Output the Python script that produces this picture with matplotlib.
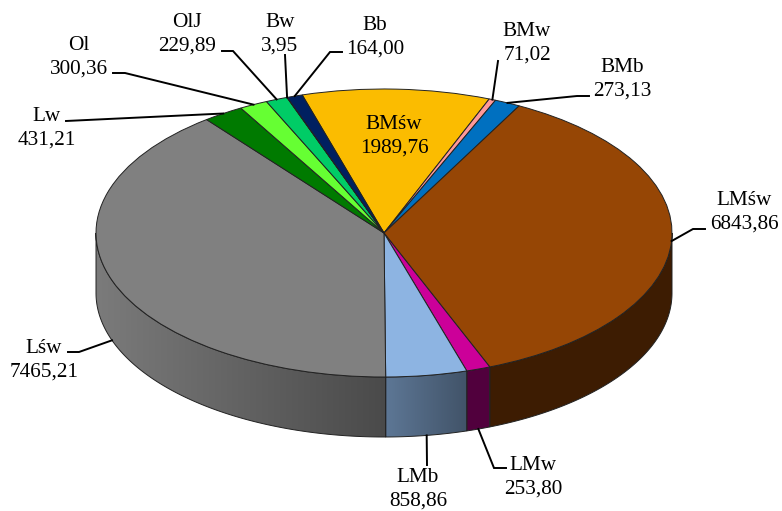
import numpy as np
import matplotlib
matplotlib.use("Agg")
import matplotlib.pyplot as plt
from matplotlib.patches import Polygon

names = ["BMśw", "BMw", "BMb", "LMśw", "LMw", "LMb", "Lśw", "Lw", "Ol", "OlJ", "Bw", "Bb"]
values = [1989.76, 71.02, 273.13, 6843.86, 253.80, 858.86, 7465.21, 431.21, 300.36, 229.89, 3.95, 164.00]
value_labels = ["1989,76", "71,02", "273,13", "6843,86", "253,80", "858,86",
                "7465,21", "431,21", "300,36", "229,89", "3,95", "164,00"]
colors = ["#FBBC00", "#FF9999", "#0070C0", "#964605", "#CC0099", "#8DB4E2",
          "#808080", "#007A00", "#66FF33", "#00CC66", "#00B050", "#002060"]

# helligkeit der seitenwand links / rechts
side_shade = {"LMśw": (0.41, 0.41), "LMw": (0.40, 0.40), "LMb": (0.66, 0.46), "Lśw": (0.96, 0.58)}

# textposition (mitte) in pixeln
label_pos = {"BMśw": (394, 136), "BMw": (527, 43), "BMb": (622, 79), "LMśw": (744, 212),
             "LMw": (533, 477), "LMb": (418, 489), "Lśw": (44, 360), "Lw": (47, 128),
             "Ol": (79, 57), "OlJ": (187, 34), "Bw": (280, 34), "Bb": (375, 37)}
# knick und ende der hinweislinien in pixeln
leader_pts = {"BMw": [(498, 61)], "BMb": [(577, 96), (589, 96)], "LMśw": [(693, 229), (705, 229)],
              "LMw": [(494, 468), (506, 468)], "LMb": [(427, 465)], "Lśw": [(79, 352), (68, 352)],
              "Lw": [(66, 121)], "Ol": [(125, 73), (113, 73)], "OlJ": [(233, 51), (222, 51)],
              "Bw": [(285, 55)], "Bb": [(330, 52), (342, 52)]}
from_bottom = ["LMw", "LMb", "Lśw"]

W, H = 782, 511
CX, CY, RX, RY = 384, 233, 288, 144
DEPTH = 60 / RY
START = 106.5


def px(x, y):
    return (x - CX) / RX, (CY - y) / RY


plt.rcParams["font.family"] = ["Liberation Serif", "DejaVu Sans"]
fig = plt.figure(figsize=(W / 100, H / 100), dpi=100)
ax = fig.add_axes([0, 0, 1, 1])

ang = START - np.concatenate([[0], np.cumsum(values)]) / np.sum(values) * 360

# seitenwand: verlauf als bild, auf die wandflaeche zugeschnitten
for i, name in enumerate(names):
    a1 = min(ang[i], 0)
    a2 = max(ang[i + 1], -180)
    if a1 <= a2:
        continue
    rgb = np.array(matplotlib.colors.to_rgb(colors[i]))
    left, right = side_shade.get(name, (0.5, 0.5))
    arc = np.radians(np.linspace(a2, a1, 200))
    xa, ya = np.cos(arc), np.sin(arc)
    shades = np.linspace(left, right, 256)
    grad = (rgb[None, :] * shades[:, None])[None, :, :]
    im = ax.imshow(grad, extent=(xa[0], xa[-1], ya.min() - DEPTH, ya.max()),
                   aspect="auto", interpolation="bilinear", zorder=1)
    outline = np.vstack([np.column_stack([xa, ya]), np.column_stack([xa, ya - DEPTH])[::-1]])
    wall = Polygon(outline, closed=True, facecolor="none", edgecolor="#222222", linewidth=0.7, zorder=2)
    ax.add_patch(wall)
    im.set_clip_path(wall)

# deckel
wedges, _ = ax.pie(values, colors=colors, startangle=START, counterclock=False,
                   wedgeprops=dict(edgecolor="#222222", linewidth=0.7, zorder=3))

# hinweislinien
for i, name in enumerate(names):
    if name in leader_pts:
        mid = np.radians((ang[i] + ang[i + 1]) / 2)
        x0, y0 = np.cos(mid), np.sin(mid)
        if name in from_bottom:
            y0 -= DEPTH
        pts = [px(*p) for p in leader_pts[name]]
        ax.plot([x0] + [p[0] for p in pts], [y0] + [p[1] for p in pts],
                color="black", lw=1.4, solid_joinstyle="miter", zorder=4)
    lx, ly = px(*label_pos[name])
    ax.text(lx, ly, name + "\n" + value_labels[i], ha="center", va="center",
            fontsize=15.3, color="black", linespacing=1.3, zorder=5, clip_on=False)

ax.set_aspect("auto")
ax.set_xlim(-CX / RX, (W - CX) / RX)
ax.set_ylim((CY - H) / RY, CY / RY)
ax.axis("off")
fig.savefig("out.png", dpi=100)
